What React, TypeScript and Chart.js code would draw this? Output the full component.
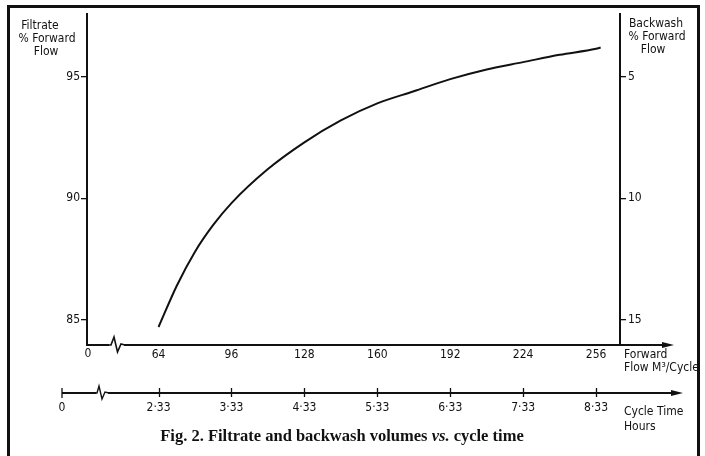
import React, { useEffect, useRef } from "react";
import { Chart, registerables } from "chart.js";

Chart.register(...registerables);

// ---- data ----
const flowValues = [64, 72, 80, 88, 96, 112, 128, 144, 160, 176, 192, 208, 224, 240, 256, 258];
const filtratePct = [84.7, 86.4, 87.8, 88.9, 89.8, 91.2, 92.3, 93.2, 93.9, 94.4, 94.9, 95.3, 95.6, 95.9, 96.15, 96.2];
const flowTicks = [64, 96, 128, 160, 192, 224, 256];
const filtrateTicks = [85, 90, 95];
const backwashTicks = [5, 10, 15];
const cycleTimeLabels = ["2·33", "3·33", "4·33", "5·33", "6·33", "7·33", "8·33"];

const FONT = '"DejaVu Sans Condensed", "Liberation Sans Narrow", "DejaVu Sans", sans-serif';
const SERIF = '"Liberation Serif", "DejaVu Serif", serif';

const decor = {
  id: "decor",
  afterDraw(chart: any) {
    const ctx = chart.ctx as CanvasRenderingContext2D;
    const xs = chart.scales.x;
    const ca = chart.chartArea;
    const yAx = ca.bottom;
    ctx.save();
    ctx.strokeStyle = "#111";
    ctx.fillStyle = "#111";
    ctx.lineCap = "butt";
    ctx.lineJoin = "miter";

    // frame
    ctx.lineWidth = 3;
    ctx.beginPath();
    ctx.moveTo(8.5, 470);
    ctx.lineTo(8.5, 6.5);
    ctx.lineTo(698.5, 6.5);
    ctx.lineTo(698.5, 470);
    ctx.stroke();

    const arrow = (x: number, y: number) => {
      ctx.beginPath();
      ctx.moveTo(x, y);
      ctx.lineTo(x - 12, y - 3);
      ctx.lineTo(x - 12, y + 3);
      ctx.closePath();
      ctx.fill();
    };

    // main axis extension + arrow
    ctx.lineWidth = 2;
    ctx.beginPath();
    ctx.moveTo(ca.right, yAx);
    ctx.lineTo(666, yAx);
    ctx.stroke();
    arrow(674, yAx);

    // break on main axis
    ctx.fillStyle = "#fff";
    ctx.fillRect(109, yAx - 2, 15, 4);
    ctx.fillStyle = "#111";
    ctx.lineWidth = 1.6;
    ctx.beginPath();
    ctx.moveTo(108, yAx);
    ctx.lineTo(111, yAx);
    ctx.lineTo(114, yAx - 8);
    ctx.lineTo(117.5, yAx + 7);
    ctx.lineTo(121, yAx - 1);
    ctx.lineTo(125, yAx);
    ctx.stroke();

    ctx.font = `12px ${FONT}`;
    ctx.textBaseline = "middle";
    ctx.textAlign = "center";
    ctx.fillText("0", ca.left + 1, yAx + 9);

    // axis titles
    ctx.textAlign = "center";
    ctx.fillText("Filtrate", 40, 26);
    ctx.fillText("% Forward", 47, 39);
    ctx.fillText("Flow", 46, 52);
    ctx.fillText("Backwash", 656, 24);
    ctx.fillText("% Forward", 657, 37);
    ctx.fillText("Flow", 653, 50);

    ctx.textAlign = "left";
    ctx.fillText("Forward", 624, 355);
    ctx.fillText("Flow M³/Cycle", 624, 368);

    // cycle time axis
    const yc = 393;
    const xStart = 62;
    ctx.lineWidth = 2;
    ctx.beginPath();
    ctx.moveTo(xStart, yc);
    ctx.lineTo(675, yc);
    ctx.stroke();
    arrow(683, yc);
    ctx.lineWidth = 1.3;
    ctx.beginPath();
    ctx.moveTo(xStart, yc - 5);
    ctx.lineTo(xStart, yc + 5);
    flowTicks.forEach((f) => {
      const px = Math.round(xs.getPixelForValue(f)) + 0.5;
      ctx.moveTo(px, yc - 5);
      ctx.lineTo(px, yc + 4);
    });
    ctx.stroke();
    // break on cycle axis
    ctx.fillStyle = "#fff";
    ctx.fillRect(96, yc - 2, 12, 4);
    ctx.fillStyle = "#111";
    ctx.lineWidth = 1.4;
    ctx.beginPath();
    ctx.moveTo(95, yc);
    ctx.lineTo(97, yc);
    ctx.lineTo(99, yc - 7);
    ctx.lineTo(102, yc + 6);
    ctx.lineTo(105, yc - 1);
    ctx.lineTo(109, yc);
    ctx.stroke();

    ctx.textAlign = "center";
    ctx.fillText("0", xStart, 408);
    flowTicks.forEach((f, i) => {
      ctx.fillText(cycleTimeLabels[i], xs.getPixelForValue(f), 408);
    });
    ctx.textAlign = "left";
    ctx.fillText("Cycle Time", 624, 412);
    ctx.fillText("Hours", 624, 427);

    // caption
    const parts: [string, string][] = [
      ["Fig. 2. Filtrate and backwash volumes ", `bold 16.5px ${SERIF}`],
      ["vs.", `italic bold 16.5px ${SERIF}`],
      [" cycle time", `bold 16.5px ${SERIF}`],
    ];
    let total = 0;
    parts.forEach(([t, f]) => {
      ctx.font = f;
      total += ctx.measureText(t).width;
    });
    let cx = 342 - total / 2;
    ctx.textAlign = "left";
    parts.forEach(([t, f]) => {
      ctx.font = f;
      ctx.fillText(t, cx, 437);
      cx += ctx.measureText(t).width;
    });
    ctx.restore();
  },
};

export default function App() {
  const ref = useRef<HTMLCanvasElement | null>(null);
  useEffect(() => {
    document.body.style.margin = "0";
    const canvas = ref.current!;
    const tickFont = { family: FONT, size: 12 };
    const chart = new Chart(canvas, {
      type: "line",
      data: {
        datasets: [
          {
            data: flowValues.map((x, i) => ({ x, y: filtratePct[i] })),
            borderColor: "#111",
            borderWidth: 2,
            pointRadius: 0,
            fill: false,
            cubicInterpolationMode: "monotone",
            yAxisID: "y",
          },
        ],
      },
      options: {
        responsive: false,
        animation: false,
        layout: { padding: { top: 14, left: 0, right: 0, bottom: 0 } },
        plugins: { legend: { display: false }, tooltip: { enabled: false }, title: { display: false } },
        scales: {
          x: {
            type: "linear",
            min: 32.6,
            max: 266.5,
            afterBuildTicks: (s: any) => {
              s.ticks = flowTicks.map((v) => ({ value: v }));
            },
            afterFit: (s: any) => {
              s.height = 456 - 345;
            },
            grid: { display: true, drawOnChartArea: false, drawTicks: false },
            border: { display: true, color: "#111", width: 2 },
            ticks: { color: "#111", font: tickFont, padding: 3, maxRotation: 0, autoSkip: false, callback: (v: any) => String(v) },
          },
          y: {
            type: "linear",
            position: "left",
            min: 83.96,
            max: 97.58,
            afterBuildTicks: (s: any) => {
              s.ticks = filtrateTicks.map((v) => ({ value: v }));
            },
            afterFit: (s: any) => {
              s.width = 87;
            },
            grid: { drawOnChartArea: false, drawTicks: true, tickLength: 6, color: "#111", lineWidth: 1.3 },
            border: { display: true, color: "#111", width: 2 },
            ticks: { color: "#111", font: tickFont, padding: 1, callback: (v: any) => String(v) },
          },
          y2: {
            type: "linear",
            position: "right",
            reverse: true,
            min: 2.42,
            max: 16.04,
            afterBuildTicks: (s: any) => {
              s.ticks = backwashTicks.map((v) => ({ value: v }));
            },
            afterFit: (s: any) => {
              s.width = 705 - 620;
            },
            grid: { drawOnChartArea: false, drawTicks: true, tickLength: 6, color: "#111", lineWidth: 1.3 },
            border: { display: true, color: "#111", width: 2 },
            ticks: { color: "#111", font: tickFont, padding: 2, callback: (v: any) => String(v) },
          },
        },
      },
      plugins: [decor],
    } as any);
    return () => chart.destroy();
  }, []);
  return <canvas ref={ref} width={705} height={456} style={{ display: "block" }} />;
}
